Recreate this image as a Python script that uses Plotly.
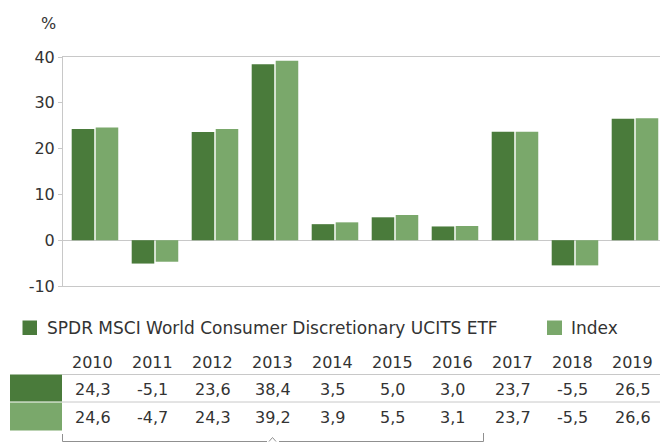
import plotly.graph_objects as go

years = ["2010", "2011", "2012", "2013", "2014", "2015", "2016", "2017", "2018", "2019"]
fund_name = "SPDR MSCI World Consumer Discretionary UCITS ETF"
index_name = "Index"
fund_values = [24.3, -5.1, 23.6, 38.4, 3.5, 5.0, 3.0, 23.7, -5.5, 26.5]
index_values = [24.6, -4.7, 24.3, 39.2, 3.9, 5.5, 3.1, 23.7, -5.5, 26.6]
y_ticks = [-10, 0, 10, 20, 30, 40]
y_ticktext = ["-10", "0", "10", "20", "30", "40"]

DARK = "#4a7b3b"
LIGHT = "#7aa86b"
GRID = "#c8c8c8"
TEXT = "#333333"
FONT = "DejaVu Sans"

W, H = 660, 443
L, R, T, B = 63, 660, 57, 286


def px(x):
    return (x - L) / (R - L)


def py(y):
    return (B - y) / (B - T)


def fmt(v):
    return f"{v:.1f}".replace(".", ",")


fig = go.Figure()
fig.add_trace(go.Bar(x=years, y=fund_values, name=fund_name, marker=dict(color=DARK, line=dict(width=0))))
fig.add_trace(go.Bar(x=years, y=index_values, name=index_name, marker=dict(color=LIGHT, line=dict(width=0))))

shapes = []
# table lines
for yy in (374.5, 402):
    shapes.append(dict(type="line", xref="paper", yref="paper", x0=px(62), x1=px(660), y0=py(yy), y1=py(yy),
                       line=dict(color=GRID, width=1)))
# row swatches
shapes.append(dict(type="rect", xref="paper", yref="paper", x0=px(10), x1=px(62), y0=py(374.5), y1=py(401.5),
                   fillcolor=DARK, line=dict(width=0)))
shapes.append(dict(type="rect", xref="paper", yref="paper", x0=px(10), x1=px(62), y0=py(402.5), y1=py(430.5),
                   fillcolor=LIGHT, line=dict(width=0)))
# legend swatches
shapes.append(dict(type="rect", xref="paper", yref="paper", x0=px(22.5), x1=px(37), y0=py(320.5), y1=py(335),
                   fillcolor=DARK, line=dict(width=0)))
shapes.append(dict(type="rect", xref="paper", yref="paper", x0=px(547), x1=px(562), y0=py(320.5), y1=py(335),
                   fillcolor=LIGHT, line=dict(width=0)))
# bracket under table
br = "M {a},{b} L {a},{c} L {d},{c} M {e},{c} L {f},{c} L {f},{g}".format(
    a=px(62.5), b=py(434), c=py(441.5), d=px(267), e=px(279), f=px(483.5), g=py(433))
shapes.append(dict(type="path", xref="paper", yref="paper", path=br, line=dict(color="#909090", width=1)))
caret = "M {a},{b} L {c},{d} L {e},{b}".format(a=px(269), b=py(441.5), c=px(272.5), d=py(437.5), e=px(276))
shapes.append(dict(type="path", xref="paper", yref="paper", path=caret, line=dict(color="#909090", width=1)))

tf = dict(family=FONT, size=16, color=TEXT)
lf = dict(family=FONT, size=17, color=TEXT)
annotations = [
    dict(text="%", xref="paper", yref="paper", x=px(48), y=py(23), showarrow=False, font=tf,
         xanchor="center", yanchor="middle"),
    dict(text=fund_name, xref="paper", yref="paper", x=px(45), y=py(328), showarrow=False, font=lf,
         xanchor="left", yanchor="middle"),
    dict(text=index_name, xref="paper", yref="paper", x=px(569), y=py(328), showarrow=False, font=lf,
         xanchor="left", yanchor="middle"),
]
for i, yr in enumerate(years):
    xc = px(95 + 60 * i - 2.5)
    annotations.append(dict(text=yr, xref="paper", yref="paper", x=xc, y=py(362), showarrow=False,
                            font=tf, xanchor="center", yanchor="middle"))
    annotations.append(dict(text=fmt(fund_values[i]), xref="paper", yref="paper", x=xc, y=py(389),
                            showarrow=False, font=tf, xanchor="center", yanchor="middle"))
    annotations.append(dict(text=fmt(index_values[i]), xref="paper", yref="paper", x=xc, y=py(417),
                            showarrow=False, font=tf, xanchor="center", yanchor="middle"))

fig.update_layout(
    width=W, height=H,
    margin=dict(l=L, r=W - R, t=T, b=H - B, pad=0, autoexpand=False),
    paper_bgcolor="white", plot_bgcolor="white",
    font=tf,
    showlegend=False,
    barmode="group", bargap=0.2, bargroupgap=0.06,
    xaxis=dict(type="category", range=[-0.533, 9.417], showticklabels=False, ticks="",
               showline=True, mirror=True, linecolor=GRID, linewidth=1, showgrid=False, zeroline=False),
    yaxis=dict(range=[-10, 40], tickvals=y_ticks, ticktext=y_ticktext, ticks="outside", ticklen=4,
               tickcolor=GRID, showline=True, linecolor=GRID, linewidth=1, showgrid=False,
               zeroline=True, zerolinecolor=GRID, zerolinewidth=1, tickfont=tf),
    shapes=shapes,
    annotations=annotations,
)

fig.write_html("out.html", config={"displayModeBar": False},
               post_script="document.body.style.margin='0';document.body.style.overflow='hidden';")
